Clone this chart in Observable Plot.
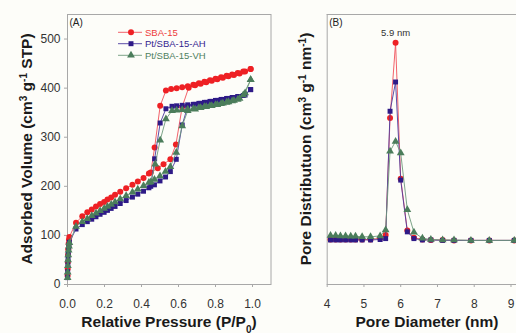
<!DOCTYPE html>
<html><head><meta charset="utf-8">
<script src="https://cdn.jsdelivr.net/npm/d3@7"></script>
<script src="https://cdn.jsdelivr.net/npm/@observablehq/plot@0.6"></script>
<style>
html,body{margin:0;padding:0;background:#fdfdf9;}
#wrap{position:relative;width:516px;height:333px;overflow:hidden;font-family:"Liberation Sans",Arial,sans-serif;background:#fdfdf9;}
#wrap svg{position:absolute;top:0;}
</style></head><body><div id="wrap"></div>
<script>
// ---------- Panel A: N2 isotherms ----------
const seriesNames = ["SBA-15", "Pt/SBA-15-AH", "Pt/SBA-15-VH"];
const seriesMarker = ["#ee2024", "#2e1a87", "#4b7d5b"];
const seriesLine = ["#f0505a", "#4b3a9e", "#6e9a7c"];
const seriesText = ["#ee3b3b", "#34248f", "#4e8060"];
const seriesSymbol = ["circle", "square", "triangle"];

const sbaAdsP = [0.0005,0.001,0.002,0.003,0.004,0.006,0.008,0.01,0.046,0.08,0.107,0.131,0.154,0.176,0.198,0.216,0.236,0.257,0.285,0.317,0.351,0.38,0.411,0.44,0.488,0.519,0.556,0.586,0.62,0.655,0.69,0.72,0.75,0.78,0.81,0.84,0.87,0.9,0.93,0.96,0.99];
const sbaAdsV = [18,32,46,60,72,83,91,97,126,139,147,153,159,164,168,173,177,183,189,196,203,210,217,226,237,245,255,285,362,401,406,409,412,415,418,421,424,427,430,434,439];
const sbaDesP = [0.99,0.95,0.92,0.89,0.86,0.83,0.80,0.77,0.74,0.71,0.68,0.65,0.62,0.59,0.56,0.532,0.501,0.471,0.45];
const sbaDesV = [439,434,431,428,425,422,419,416,413,410,407,404,402,400,398,395,364,279,228];

const ahAdsP = [0.0005,0.001,0.002,0.003,0.004,0.006,0.008,0.01,0.046,0.08,0.107,0.131,0.154,0.176,0.198,0.216,0.236,0.257,0.285,0.317,0.351,0.38,0.411,0.44,0.47,0.5,0.53,0.556,0.588,0.62,0.65,0.69,0.72,0.75,0.78,0.81,0.84,0.87,0.9,0.93,0.96,0.99];
const ahAdsV = [14,26,40,52,62,72,80,86,113,122,128,133,138,143,147,151,155,159,165,171,178,184,190,197,203,211,219,230,255,325,363,367,369,371,373,375,377,379,381,383,386,397];
const ahDesP = [0.99,0.95,0.92,0.89,0.86,0.83,0.80,0.77,0.74,0.71,0.68,0.65,0.62,0.59,0.565,0.532,0.501,0.471,0.45];
const ahDesV = [397,385,383,381,379,377,375,373,371,369,367,366,365,364,363,358,329,256,200];

const vhAdsP = ahAdsP;
const vhAdsV = [14,25,38,50,60,70,78,85,118,128,134,140,145,150,155,159,163,168,174,181,188,194,201,208,214,221,230,240,269,323,354,357,360,362,364,366,369,372,375,379,390,417];
const vhDesP = [0.99,0.95,0.92,0.89,0.86,0.83,0.80,0.77,0.74,0.71,0.68,0.65,0.62,0.59,0.565,0.532,0.501,0.474,0.45];
const vhDesV = [417,386,377,374,371,368,366,364,362,360,358,357,356,355,354,337,294,245,209];

const xTicksA = [0, 0.2, 0.4, 0.6, 0.8, 1.0];
const yTicksA = [0, 100, 200, 300, 400, 500];

// ---------- Panel B: pore size distribution ----------
const poreD = [4.09,4.23,4.36,4.50,4.64,4.77,4.95,5.18,5.44,5.59,5.71,5.86,6.00,6.18,6.36,6.59,6.82,7.14,7.45,7.91,8.41,9.09];
const sbaPSD = [1.0,1.0,1.0,1.0,1.0,1.0,1.0,1.0,1.03,1.1,3.70,5.37,2.35,1.2,1.04,1.0,0.99,0.99,0.98,0.98,0.98,0.98];
const ahPSD  = [0.99,0.99,0.99,0.99,0.99,0.99,0.99,0.99,1.0,1.02,3.85,4.50,2.32,1.17,1.02,0.99,0.99,0.98,0.98,0.98,0.98,0.98];
const vhPSD  = [1.09,1.09,1.08,1.08,1.07,1.07,1.06,1.06,1.08,1.21,2.96,3.18,2.92,1.66,1.16,1.03,1.0,0.99,0.99,0.98,0.98,0.98];
const xTicksB = [4, 5, 6, 7, 8, 9];
const peakLabel = "5.9 nm";

// ---------- build tables ----------
function rows(si, branch, xs, ys) { return xs.map((x, i) => ({s: si, branch, x, y: ys[i]})); }
const iso = [
  [...rows(0, "ads", sbaAdsP, sbaAdsV), ...rows(0, "des", sbaDesP, sbaDesV)],
  [...rows(1, "ads", ahAdsP, ahAdsV), ...rows(1, "des", ahDesP, ahDesV)],
  [...rows(2, "ads", vhAdsP, vhAdsV), ...rows(2, "des", vhDesP, vhDesV)]
];
const psd = [rows(0, "psd", poreD, sbaPSD), rows(1, "psd", poreD, ahPSD), rows(2, "psd", poreD, vhPSD)];
const rVals = [3, 2.8, 2.9];

function seriesMarks(data) {
  const m = [];
  data.forEach((d, i) => {
    m.push(Plot.line(d, {x: "x", y: "y", z: "branch", stroke: seriesLine[i], strokeWidth: 0.9}));
    m.push(Plot.dot(d, {x: "x", y: "y", symbol: seriesSymbol[i], r: rVals[i], fill: seriesMarker[i], stroke: "none"}));
  });
  return m;
}

const font = "'Liberation Sans', Arial, sans-serif";
const axisGray = "#a8a8a8";

const A = Plot.plot({
  width: 290, height: 333, marginLeft: 67, marginRight: 19.5, marginTop: 14, marginBottom: 49,
  style: {background: "transparent", fontFamily: font, fontSize: "12px", overflow: "visible"},
  x: {domain: [0, 1.1]},
  y: {domain: [0, 550]},
  marks: [
    Plot.frame({stroke: axisGray}),
    Plot.axisX({ticks: xTicksA, tickFormat: d3.format(".1f"), tickSize: 3, tickPadding: 12, label: null, stroke: axisGray, fill: "#333", fontSize: 12}),
    Plot.axisY({ticks: yTicksA, tickSize: 3, tickPadding: 4, label: null, stroke: axisGray, fill: "#333", fontSize: 12}),
    ...seriesMarks(iso),
    Plot.text(["(A)"], {frameAnchor: "top-left", dx: 2, dy: 4, fontSize: 10, textAnchor: "start", lineAnchor: "top", fill: "#222"})
  ]
});
A.style.left = "0px";

const yDomB = [0, 6];
const xDomB = [4, 9.15];
const pk = d3.maxIndex(sbaPSD);
const B = Plot.plot({
  width: 246, height: 333, marginLeft: 56.7, marginRight: 0, marginTop: 14, marginBottom: 49,
  style: {background: "transparent", fontFamily: font, fontSize: "12px", overflow: "visible"},
  x: {domain: xDomB},
  y: {domain: yDomB, axis: null},
  marks: [
    Plot.ruleY([yDomB[1]], {stroke: axisGray}),
    Plot.ruleY([yDomB[0]], {stroke: axisGray}),
    Plot.ruleX([xDomB[0]], {stroke: axisGray}),
    Plot.axisX({ticks: xTicksB, tickFormat: d3.format("d"), tickSize: 3, tickPadding: 12, label: null, stroke: axisGray, fill: "#333", fontSize: 12}),
    ...seriesMarks(psd),
    Plot.text([{x: poreD[pk], y: sbaPSD[pk]}], {x: "x", y: "y", text: () => peakLabel, dy: -10, fontSize: 9.5, fill: "#333"}),
    Plot.text(["(B)"], {frameAnchor: "top-left", dx: 2, dy: 4, fontSize: 10, textAnchor: "start", lineAnchor: "top", fill: "#222"})
  ]
});
B.style.left = "270px";

const wrap = document.getElementById("wrap");
wrap.appendChild(A);
wrap.appendChild(B);

// ---------- overlay: axis titles and legend ----------
const ov = d3.select(wrap).append("svg").attr("width", 516).attr("height", 333)
  .style("position", "absolute").style("left", "0px").style("top", "0px")
  .style("font-family", font);

function title(x, y, rot, parts) {
  const t = ov.append("text").attr("transform", `translate(${x},${y}) rotate(${rot})`)
    .attr("text-anchor", "middle").attr("font-weight", "bold").attr("font-size", 15.5).attr("fill", "#1a1a1a");
  parts.forEach(p => {
    const s = t.append("tspan").text(p[0]);
    if (p[1] === "sup") s.attr("font-size", 10).attr("baseline-shift", "super");
    if (p[1] === "sub") s.attr("font-size", 10).attr("baseline-shift", "sub");
  });
}
title(169, 327, 0, [["Relative Pressure (P/P"], ["0", "sub"], [")"]]);
title(32, 149, -90, [["Adsorbed Volume (cm"], ["3", "sup"], [" g"], ["-1", "sup"], [" STP)"]]);
title(427, 327, 0, [["Pore Diameter (nm)"]]);
title(311, 149, -90, [["Pore Distributuon (cm"], ["3", "sup"], [" g"], ["-1", "sup"], [" nm"], ["-1", "sup"], [")"]]);

// legend
const legY = [32.3, 43.7, 55.3];
seriesNames.forEach((name, i) => {
  const g = ov.append("g").attr("transform", `translate(0,${legY[i]})`);
  g.append("line").attr("x1", 118).attr("x2", 142).attr("y1", 0).attr("y2", 0).attr("stroke", seriesLine[i]).attr("stroke-width", 0.9);
  const sym = {circle: d3.symbolCircle, square: d3.symbolSquare, triangle: d3.symbolTriangle}[seriesSymbol[i]];
  g.append("path").attr("d", d3.symbol(sym, Math.PI * rVals[i] * rVals[i])()).attr("transform", "translate(131,0)").attr("fill", seriesMarker[i]);
  g.append("text").attr("x", 145).attr("y", 0).attr("dy", "0.35em").attr("font-size", 9.5).attr("fill", seriesText[i]).text(name);
});
</script>
</body></html>
